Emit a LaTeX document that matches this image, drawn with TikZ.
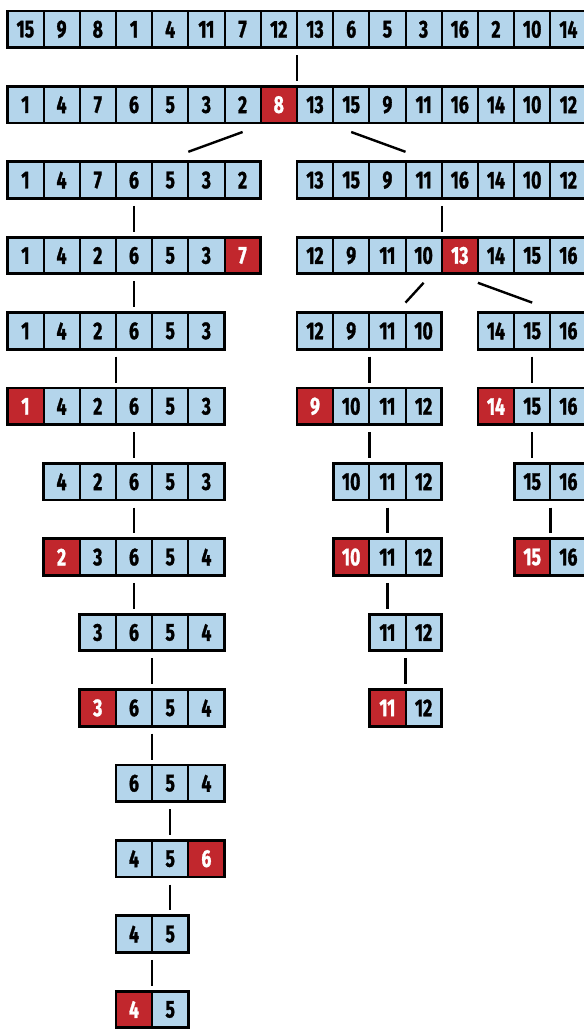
\documentclass[tikz,border=0pt]{standalone}
\usepackage{fontspec}
\setmainfont{Fira Sans}[FakeStretch=0.72, BoldFeatures={FakeBold=1.2}]
\definecolor{cellblue}{HTML}{B4D5EB}
\definecolor{cellred}{HTML}{C1272D}
\tikzset{
 cell/.style={draw=black, line width=1pt, minimum width=18.1pt, minimum height=18.3pt,
   inner sep=0pt, outer sep=0pt, font=\fontsize{12.2}{13}\selectfont\bfseries, anchor=center},
 blu/.style={fill=cellblue, text=black},
 redc/.style={fill=cellred, text=white},
 grpframe/.style={draw=black, line width=1.4pt},
 link/.style={draw=black, line width=1.2pt},
}
\newcommand\rowcells[4]{%
 \foreach \v/\s [count=\i from 0] in {#4} {
   \pgfmathtruncatemacro\c{#2+\i}
   \node[cell,\s] (r#1c\c) at ({25.4+36.2*\c},{-(29.3+75.4*(#1-1))}) {\v};
 }
 \draw[grpframe] (r#1c#2.north west) rectangle (r#1c#3.south east);
}
\begin{document}
\begin{tikzpicture}[x=0.5pt,y=0.5pt]
\useasboundingbox (0,0) rectangle (584,-1029);
% row 1
\rowcells{1}{0}{15}{15/blu,9/blu,8/blu,1/blu,4/blu,11/blu,7/blu,12/blu,13/blu,6/blu,5/blu,3/blu,16/blu,2/blu,10/blu,14/blu}
% row 2
\rowcells{2}{0}{15}{1/blu,4/blu,7/blu,6/blu,5/blu,3/blu,2/blu,8/redc,13/blu,15/blu,9/blu,11/blu,16/blu,14/blu,10/blu,12/blu}
% row 3
\rowcells{3}{0}{6}{1/blu,4/blu,7/blu,6/blu,5/blu,3/blu,2/blu}
\rowcells{3}{8}{15}{13/blu,15/blu,9/blu,11/blu,16/blu,14/blu,10/blu,12/blu}
% row 4
\rowcells{4}{0}{6}{1/blu,4/blu,2/blu,6/blu,5/blu,3/blu,7/redc}
\rowcells{4}{8}{15}{12/blu,9/blu,11/blu,10/blu,13/redc,14/blu,15/blu,16/blu}
% row 5
\rowcells{5}{0}{5}{1/blu,4/blu,2/blu,6/blu,5/blu,3/blu}
\rowcells{5}{8}{11}{12/blu,9/blu,11/blu,10/blu}
\rowcells{5}{13}{15}{14/blu,15/blu,16/blu}
% row 6
\rowcells{6}{0}{5}{1/redc,4/blu,2/blu,6/blu,5/blu,3/blu}
\rowcells{6}{8}{11}{9/redc,10/blu,11/blu,12/blu}
\rowcells{6}{13}{15}{14/redc,15/blu,16/blu}
% row 7
\rowcells{7}{1}{5}{4/blu,2/blu,6/blu,5/blu,3/blu}
\rowcells{7}{9}{11}{10/blu,11/blu,12/blu}
\rowcells{7}{14}{15}{15/blu,16/blu}
% row 8
\rowcells{8}{1}{5}{2/redc,3/blu,6/blu,5/blu,4/blu}
\rowcells{8}{9}{11}{10/redc,11/blu,12/blu}
\rowcells{8}{14}{15}{15/redc,16/blu}
% row 9
\rowcells{9}{2}{5}{3/blu,6/blu,5/blu,4/blu}
\rowcells{9}{10}{11}{11/blu,12/blu}
% row 10
\rowcells{10}{2}{5}{3/redc,6/blu,5/blu,4/blu}
\rowcells{10}{10}{11}{11/redc,12/blu}
% row 11
\rowcells{11}{3}{5}{6/blu,5/blu,4/blu}
% row 12
\rowcells{12}{3}{5}{4/blu,5/blu,6/redc}
% row 13
\rowcells{13}{3}{4}{4/blu,5/blu}
% row 14
\rowcells{14}{3}{4}{4/redc,5/blu}

% connectors
\draw[link] ([yshift=-3.75pt]r1c8.south west) -- ([yshift=2.75pt]r2c8.north west);
\draw[link] ([yshift=-4.5pt]r2c6.south) -- ([yshift=5pt]r3c5.north west);
\draw[link] ([yshift=-4.5pt]r2c9.south) -- ([yshift=5pt]r3c11.north west);
\draw[link] ([yshift=-3.75pt]r3c3.south) -- ([yshift=2.75pt]r4c3.north);
\draw[link] ([yshift=-3.75pt]r3c12.south west) -- ([yshift=2.75pt]r4c12.north west);
\draw[link] ([yshift=-3.75pt]r4c3.south) -- ([yshift=2.75pt]r5c3.north);
\draw[link] ([yshift=-4.5pt]r4c11.south) -- ([yshift=5pt]r5c11.north west);
\draw[link] ([yshift=-4.5pt]r4c13.south west) -- ([yshift=5pt]r5c14.north);
\draw[link] ([yshift=-3.75pt]r5c3.south west) -- ([yshift=2.75pt]r6c3.north west);
\draw[link] ([yshift=-3.75pt]r5c10.south west) -- ([yshift=2.75pt]r6c10.north west);
\draw[link] ([yshift=-3.75pt]r5c14.south) -- ([yshift=2.75pt]r6c14.north);
\draw[link] ([yshift=-3.75pt]r6c3.south) -- ([yshift=2.75pt]r7c3.north);
\draw[link] ([yshift=-3.75pt]r6c10.south west) -- ([yshift=2.75pt]r7c10.north west);
\draw[link] ([yshift=-3.75pt]r6c14.south) -- ([yshift=2.75pt]r7c14.north);
\draw[link] ([yshift=-3.75pt]r7c3.south) -- ([yshift=2.75pt]r8c3.north);
\draw[link] ([yshift=-3.75pt]r7c10.south) -- ([yshift=2.75pt]r8c10.north);
\draw[link] ([yshift=-3.75pt]r7c15.south west) -- ([yshift=2.75pt]r8c15.north west);
\draw[link] ([yshift=-3.75pt]r8c3.south) -- ([yshift=2.75pt]r9c3.north);
\draw[link] ([yshift=-3.75pt]r8c10.south) -- ([yshift=2.75pt]r9c10.north);
\draw[link] ([yshift=-3.75pt]r9c4.south west) -- ([yshift=2.75pt]r10c4.north west);
\draw[link] ([yshift=-3.75pt]r9c11.south west) -- ([yshift=2.75pt]r10c11.north west);
\draw[link] ([yshift=-3.75pt]r10c4.south west) -- ([yshift=2.75pt]r11c4.north west);
\draw[link] ([yshift=-3.75pt]r11c4.south) -- ([yshift=2.75pt]r12c4.north);
\draw[link] ([yshift=-3.75pt]r12c4.south) -- ([yshift=2.75pt]r13c4.north);
\draw[link] ([yshift=-3.75pt]r13c4.south west) -- ([yshift=2.75pt]r14c4.north west);
\end{tikzpicture}
\end{document}
